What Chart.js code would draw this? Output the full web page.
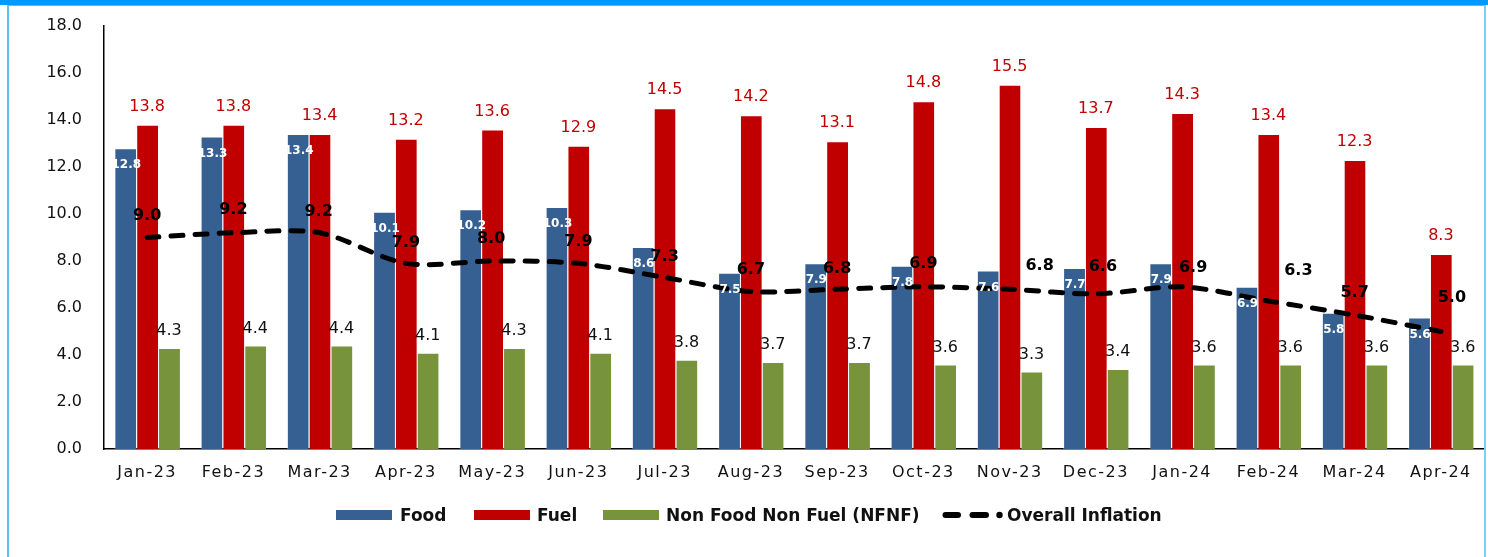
<!DOCTYPE html>
<html><head><meta charset="utf-8">
<script src="https://cdn.jsdelivr.net/npm/chart.js@4.4.0/dist/chart.umd.min.js"></script>
<style>
html,body{margin:0;padding:0;background:#fff;}
#wrap{position:relative;width:1488px;height:557px;overflow:hidden;background:#fff;}
#c{position:absolute;left:0;top:0;}
.topbar{position:absolute;left:0;top:0;width:1488px;height:5px;background:#0099FF;}
.topbar2{position:absolute;left:7px;top:5px;width:1479px;height:1px;background:#55BBFF;}
.lb{position:absolute;left:7px;top:5px;width:1.5px;height:552px;background:#5CC6F2;}
.rb{position:absolute;left:1484px;top:5px;width:2px;height:552px;background:#74D0F5;}
.lg{position:absolute;font:bold 17px "DejaVu Sans",sans-serif;color:#111;white-space:nowrap;line-height:20px;top:505px;}
.sw{position:absolute;top:510px;width:56px;height:10px;}
</style></head>
<body>
<div id="wrap">
  <canvas id="c" width="1488" height="557"></canvas>
  <div class="topbar"></div><div class="topbar2"></div>
  <div class="lb"></div><div class="rb"></div>
  <div class="sw" style="left:336px;background:#376092"></div><div class="lg" style="left:400px">Food</div>
  <div class="sw" style="left:474px;background:#C00000"></div><div class="lg" style="left:537px">Fuel</div>
  <div class="sw" style="left:603px;background:#77933C"></div><div class="lg" style="left:666px">Non Food Non Fuel (NFNF)</div>
  <svg style="position:absolute;left:941px;top:508px" width="64" height="14">
    <line x1="4.5" y1="7" x2="17" y2="7" stroke="#000" stroke-width="6" stroke-linecap="round"/>
    <line x1="31.5" y1="7" x2="45" y2="7" stroke="#000" stroke-width="6" stroke-linecap="round"/>
    <circle cx="58.5" cy="7" r="3.2" fill="#000"/>
  </svg>
  <div class="lg" style="left:1007px">Overall Inflation</div>
</div>
<script>
const categories = ['Jan-23','Feb-23','Mar-23','Apr-23','May-23','Jun-23','Jul-23','Aug-23','Sep-23','Oct-23','Nov-23','Dec-23','Jan-24','Feb-24','Mar-24','Apr-24'];
const food    = [12.8,13.3,13.4,10.1,10.2,10.3,8.6,7.5,7.9,7.8,7.6,7.7,7.9,6.9,5.8,5.6];
const fuel    = [13.8,13.8,13.4,13.2,13.6,12.9,14.5,14.2,13.1,14.8,15.5,13.7,14.3,13.4,12.3,8.3];
const nfnf    = [4.3,4.4,4.4,4.1,4.3,4.1,3.8,3.7,3.7,3.6,3.3,3.4,3.6,3.6,3.6,3.6];
const overall = [9.0,9.2,9.2,7.9,8.0,7.9,7.3,6.7,6.8,6.9,6.8,6.6,6.9,6.3,5.7,5.0];
const yMin = 0, yMax = 18, yStep = 2;
// label nudges for the Overall Inflation labels (dx, dy in px from the point)
const overallLabelShift = [[0,-22],[0,-23],[-1,-21],[0,-21],[-1,-22],[0,-22],[0,-21],[0,-22],[0,-20],[0,-23],[30,-23],[7,-27],[11,-19],[30,-30],[0,-22],[11,-34]];

const FONT = '"DejaVu Sans", Verdana, sans-serif';

const labelPlugin = {
  id: 'valueLabels',
  afterDatasetsDraw(chart) {
    const ctx = chart.ctx;
    ctx.save();
    ctx.textAlign = 'center';
    ctx.textBaseline = 'middle';
    chart.getDatasetMeta(0).data.forEach((b, i) => {
      ctx.font = 'bold 12px ' + FONT; ctx.fillStyle = '#ffffff';
      ctx.fillText(food[i].toFixed(1), b.x + 1, b.y + 17);
    });
    chart.getDatasetMeta(1).data.forEach((b, i) => {
      ctx.font = '16px ' + FONT; ctx.fillStyle = '#C00000';
      ctx.fillText(fuel[i].toFixed(1), b.x, b.y - 18);
    });
    chart.getDatasetMeta(2).data.forEach((b, i) => {
      ctx.font = '16px ' + FONT; ctx.fillStyle = '#111111';
      ctx.fillText(nfnf[i].toFixed(1), b.x, b.y - 17);
    });
    chart.getDatasetMeta(3).data.forEach((p, i) => {
      ctx.font = 'bold 16px ' + FONT; ctx.fillStyle = '#000000';
      const s = overallLabelShift[i];
      ctx.fillText(overall[i].toFixed(1), p.x + s[0], p.y + s[1]);
    });
    ctx.restore();
  }
};

const barBorder = 'rgba(255,255,255,0.35)';
const barBW = { left: 1, top: 1, right: 0, bottom: 0 };
const chart = new Chart(document.getElementById('c'), {
  data: {
    labels: categories,
    datasets: [
      { type: 'bar', label: 'Food', data: food, backgroundColor: '#376092', borderColor: barBorder, borderWidth: barBW, borderSkipped: false, order: 1 },
      { type: 'bar', label: 'Fuel', data: fuel, backgroundColor: '#C00000', borderColor: barBorder, borderWidth: barBW, borderSkipped: false, order: 1 },
      { type: 'bar', label: 'Non Food Non Fuel (NFNF)', data: nfnf, backgroundColor: '#77933C', borderColor: barBorder, borderWidth: barBW, borderSkipped: false, order: 1 },
      { type: 'line', label: 'Overall Inflation', data: overall, borderColor: '#000', borderWidth: 5,
        borderDash: [12, 12], borderCapStyle: 'round', pointRadius: 0, tension: 0.3, fill: false, order: 0 }
    ]
  },
  options: {
    responsive: false,
    animation: false,
    events: [],
    datasets: { bar: { categoryPercentage: 0.76, barPercentage: 1.0 } },
    layout: { padding: { top: 26, right: 4, bottom: 0, left: 0 } },
    plugins: { legend: { display: false }, tooltip: { enabled: false } },
    scales: {
      x: {
        offset: true,
        grid: { display: false, drawTicks: false },
        border: { display: true, color: '#000', width: 1.5 },
        ticks: { font: { family: FONT, size: 16 }, color: '#111', padding: 14, maxRotation: 0, autoSkip: false },
        afterFit(s) { s.height = 108; }
      },
      y: {
        min: yMin, max: yMax,
        grid: { display: false, drawTicks: false },
        border: { display: true, color: '#000', width: 1.5 },
        ticks: { stepSize: yStep, font: { family: FONT, size: 16 }, color: '#111', padding: 22,
                 callback: v => Number(v).toFixed(1) },
        afterFit(s) { s.width = 104; s.paddingTop = 0; s.paddingBottom = 0; }
      }
    }
  },
  plugins: [labelPlugin]
});
const xs = chart.scales.x;
const origDrawLabels = xs.drawLabels;
xs.drawLabels = function(area) {
  const c = this.ctx; c.save(); c.letterSpacing = '1.5px';
  origDrawLabels.call(this, area); c.restore();
};
chart.draw();
</script>
</body></html>
